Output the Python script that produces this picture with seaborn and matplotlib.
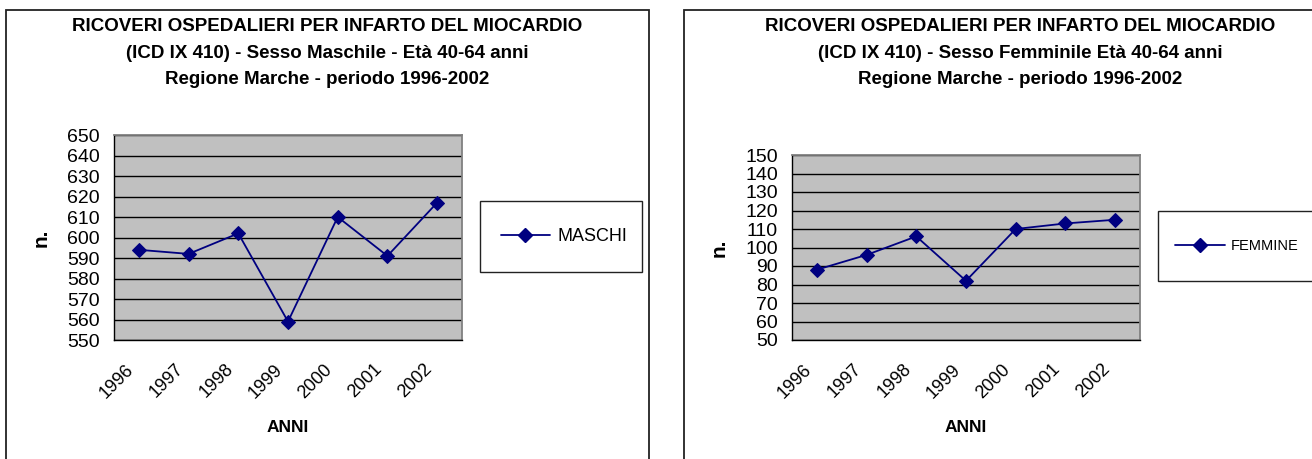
import matplotlib
matplotlib.use("Agg")
import matplotlib.pyplot as plt
import matplotlib.patches as mpatches
import matplotlib.transforms as mtransforms
from matplotlib.lines import Line2D
import seaborn as sns
import pandas as pd

years = ["1996", "1997", "1998", "1999", "2000", "2001", "2002"]
maschi = [594, 592, 602, 559, 610, 591, 617]
femmine = [88, 96, 106, 82, 110, 113, 115]

titles = [
    "RICOVERI OSPEDALIERI PER INFARTO DEL MIOCARDIO\n(ICD IX 410) - Sesso Maschile - Età 40-64 anni\nRegione Marche - periodo 1996-2002",
    "RICOVERI OSPEDALIERI PER INFARTO DEL MIOCARDIO\n(ICD IX 410) - Sesso Femminile Età 40-64 anni\nRegione Marche - periodo 1996-2002",
]
series_names = ["MASCHI", "FEMMINE"]
ylims = [(550, 650), (50, 150)]

sns.set_style("white")
plt.rcParams['font.family'] = ['Liberation Sans', 'DejaVu Sans']
for k in ["text.color", "axes.labelcolor", "xtick.color", "ytick.color"]:
    plt.rcParams[k] = "black"

W, H = 1312, 459
fig = plt.figure(figsize=(W / 100, H / 100), dpi=100)

def fx(px):
    return px / W

def fy(py):
    return 1 - py / H

NAVY = "#000080"

# panel borders
for (x0, x1) in [(6, 649), (684, 1400)]:
    fig.patches.append(mpatches.Rectangle((fx(x0), fy(470)), fx(x1) - fx(x0), fy(10) - fy(470),
                                          transform=fig.transFigure, fill=False,
                                          edgecolor="#222222", linewidth=1.3, zorder=0))

panels = [
    dict(ax=(114, 135, 462, 340), title_x=327, leg=(480, 201, 642, 272), line_x=501,
         leg_size=13, hl=2.7),
    dict(ax=(792, 155, 1140, 340), title_x=1020, leg=(1158, 211, 1400, 281), line_x=1175,
         leg_size=10.5, hl=3.4),
]
data_list = [maschi, femmine]

for i, p in enumerate(panels):
    x0, y0, x1, y1 = p["ax"]
    ax = fig.add_axes([fx(x0), fy(y1), fx(x1) - fx(x0), fy(y0) - fy(y1)])
    ax.set_facecolor("#C0C0C0")
    df = pd.DataFrame({"anno": range(len(years)), "n": data_list[i]})
    sns.lineplot(data=df, x="anno", y="n", ax=ax, color=NAVY, marker="D",
                 markersize=7.5, linewidth=1.3, markeredgecolor=NAVY, zorder=3)
    ax.set_xlim(-0.5, len(years) - 0.5)
    lo, hi = ylims[i]
    ax.set_ylim(lo, hi)
    ax.set_yticks(range(lo, hi + 1, 10))
    ax.yaxis.grid(True, color="black", linewidth=1.0)
    ax.set_axisbelow(True)
    ax.set_xticks([k - 0.5 for k in range(len(years) + 1)])
    ax.set_xticklabels([])
    ax.set_xticks(range(len(years)), minor=True)
    ax.set_xticklabels(years, minor=True, rotation=45, ha="right", va="top",
                       rotation_mode="anchor", fontsize=13)
    ax.tick_params(axis="x", which="minor", length=0, pad=15)
    ax.tick_params(axis="x", which="major", length=5, width=1, color="black", direction="out")
    ax.tick_params(axis="y", length=5, width=1, color="black", direction="out", labelsize=14, pad=5)
    offset = mtransforms.ScaledTranslation(-10 / 72, 0, fig.dpi_scale_trans)
    for lbl in ax.get_xticklabels(minor=True):
        lbl.set_transform(lbl.get_transform() + offset)
    for s in ["top", "right"]:
        ax.spines[s].set_color("#808080")
        ax.spines[s].set_linewidth(1.3)
    for s in ["left", "bottom"]:
        ax.spines[s].set_color("black")
        ax.spines[s].set_linewidth(1.0)
    ax.set_xlabel("ANNI", fontsize=12.5, fontweight="bold")
    ax.set_ylabel("n.", fontsize=15, fontweight="bold")
    ax.xaxis.set_label_coords(0.5, (y1 - 420) / (y1 - y0))
    ax.yaxis.set_label_coords(-63 / (x1 - x0), 0.5)

    fig.text(fx(p["title_x"]), fy(53), titles[i], ha="center", va="center",
             fontsize=13.5, fontweight="bold", linespacing=1.7)

    lx0, ly0, lx1, ly1 = p["leg"]
    fig.patches.append(mpatches.Rectangle((fx(lx0), fy(ly1)), fx(lx1) - fx(lx0), fy(ly0) - fy(ly1),
                                          transform=fig.transFigure, facecolor="white",
                                          edgecolor="#222222", linewidth=1.0, zorder=1))
    handle = Line2D([], [], color=NAVY, marker="D", markersize=7.5, linewidth=1.3)
    fig.legend([handle], [series_names[i]], loc="center left",
               bbox_to_anchor=(fx(p["line_x"]), fy((ly0 + ly1) / 2)), frameon=False,
               prop=dict(size=p["leg_size"]), handlelength=p["hl"], handletextpad=0.45,
               borderpad=0, borderaxespad=0)

fig.savefig("out.png", dpi=100)
